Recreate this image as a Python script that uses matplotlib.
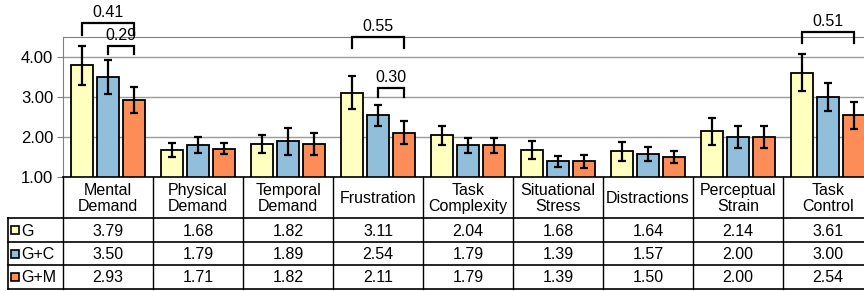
import matplotlib
matplotlib.use("Agg")
import matplotlib.pyplot as plt
from matplotlib.patches import Rectangle

plt.rcParams['font.family'] = ['Liberation Sans', 'DejaVu Sans']

# data
categories = ["Mental\nDemand", "Physical\nDemand", "Temporal\nDemand", "Frustration",
              "Task\nComplexity", "Situational\nStress", "Distractions",
              "Perceptual\nStrain", "Task\nControl"]
series = ["G", "G+C", "G+M"]
g_vals = [3.79, 1.68, 1.82, 3.11, 2.04, 1.68, 1.64, 2.14, 3.61]
gc_vals = [3.50, 1.79, 1.89, 2.54, 1.79, 1.39, 1.57, 2.00, 3.00]
gm_vals = [2.93, 1.71, 1.82, 2.11, 1.79, 1.39, 1.50, 2.00, 2.54]
g_err = [0.48, 0.18, 0.23, 0.41, 0.24, 0.22, 0.24, 0.33, 0.47]
gc_err = [0.42, 0.20, 0.33, 0.26, 0.18, 0.14, 0.17, 0.28, 0.35]
gm_err = [0.33, 0.14, 0.27, 0.29, 0.19, 0.16, 0.16, 0.28, 0.34]
colors = ["#FFFFBF", "#91BFDB", "#FC8D59"]

# significance brackets: (category, left series, right series, y top, leg drop, label)
brackets = [
    (0, 0, 2, 4.85, 0.30, "0.41"),
    (0, 1, 2, 4.275, 0.20, "0.29"),
    (3, 0, 2, 4.50, 0.28, "0.55"),
    (3, 1, 2, 3.225, 0.23, "0.30"),
    (8, 0, 2, 4.625, 0.28, "0.51"),
]

W, H = 864, 291
fig = plt.figure(figsize=(W / 100, H / 100), dpi=100)

# layout in pixels
ax_left, ax_top, ax_bot = 63, 37, 177
col_w = 90
n = len(categories)
ax = fig.add_axes([ax_left / W, (H - ax_bot) / H, col_w * n / W, (ax_bot - ax_top) / H])

offsets = [-0.289, 0.0, 0.289]
bw = 0.235
vals = [g_vals, gc_vals, gm_vals]
errs = [g_err, gc_err, gm_err]
for s in range(3):
    xs = [i + 0.5 + offsets[s] for i in range(n)]
    ax.bar(xs, vals[s], bottom=0, width=bw, color=colors[s], edgecolor="black",
           linewidth=1.3, zorder=3)
    ax.errorbar(xs, vals[s], yerr=errs[s], fmt="none", ecolor="black",
                elinewidth=1.6, capsize=3.2, capthick=1.6, zorder=4)

ax.set_xlim(0, n)
ax.set_ylim(1, 4.5)
ax.set_yticks([1, 2, 3, 4])
ax.set_yticklabels(["%.2f" % v for v in [1, 2, 3, 4]], fontsize=12)
ax.set_xticks([])
ax.yaxis.grid(True, color="#9a9a9a", linewidth=1.0, zorder=0)
ax.tick_params(axis="y", length=4, color="#808080", pad=3)
for side in ["right", "bottom"]:
    ax.spines[side].set_visible(False)
ax.spines["left"].set_color("#808080")
ax.spines["top"].set_color("#808080")

for cat, a, b, ytop, drop, label in brackets:
    x1 = cat + 0.5 + offsets[a]
    x2 = cat + 0.5 + offsets[b]
    ax.plot([x1, x1, x2, x2], [ytop - drop, ytop, ytop, ytop - drop], color="black",
            linewidth=1.6, clip_on=False, zorder=5, solid_joinstyle="miter")
    ax.text((x1 + x2) / 2, ytop + 0.07, label, ha="center", va="bottom",
            fontsize=11.5, clip_on=False, zorder=6)

# data table below the chart (pixel overlay)
tab = fig.add_axes([0, 0, 1, 1])
tab.set_xlim(0, W)
tab.set_ylim(H, 0)
tab.axis("off")
row_edges = [177, 218, 242, 265, 289]
tab_left = 8
right = ax_left + col_w * n
lc = "black"
tab.plot([ax_left, right], [row_edges[0]] * 2, color=lc, lw=1.2)
for y in row_edges[1:]:
    tab.plot([tab_left, right], [y, y], color=lc, lw=1.2)
tab.plot([tab_left, tab_left], [row_edges[1], row_edges[-1]], color=lc, lw=1.2)
for i in range(n + 1):
    x = ax_left + i * col_w
    tab.plot([x, x], [row_edges[0], row_edges[-1]], color=lc, lw=1.0)

for i, cat in enumerate(categories):
    cx = ax_left + (i + 0.5) * col_w
    tab.text(cx, (row_edges[0] + row_edges[1]) / 2 + 1, cat, ha="center", va="center",
             fontsize=11.5, linespacing=1.1)
    for s in range(3):
        tab.text(cx, (row_edges[s + 1] + row_edges[s + 2]) / 2 + 1, "%.2f" % vals[s][i],
                 ha="center", va="center", fontsize=11.5)

for s, name in enumerate(series):
    cy = (row_edges[s + 1] + row_edges[s + 2]) / 2
    tab.add_patch(Rectangle((11, cy - 4), 8, 8, facecolor=colors[s], edgecolor="black", lw=1.2))
    tab.text(21, cy + 1, name, ha="left", va="center", fontsize=11.5)

fig.savefig("out.png", dpi=100)
